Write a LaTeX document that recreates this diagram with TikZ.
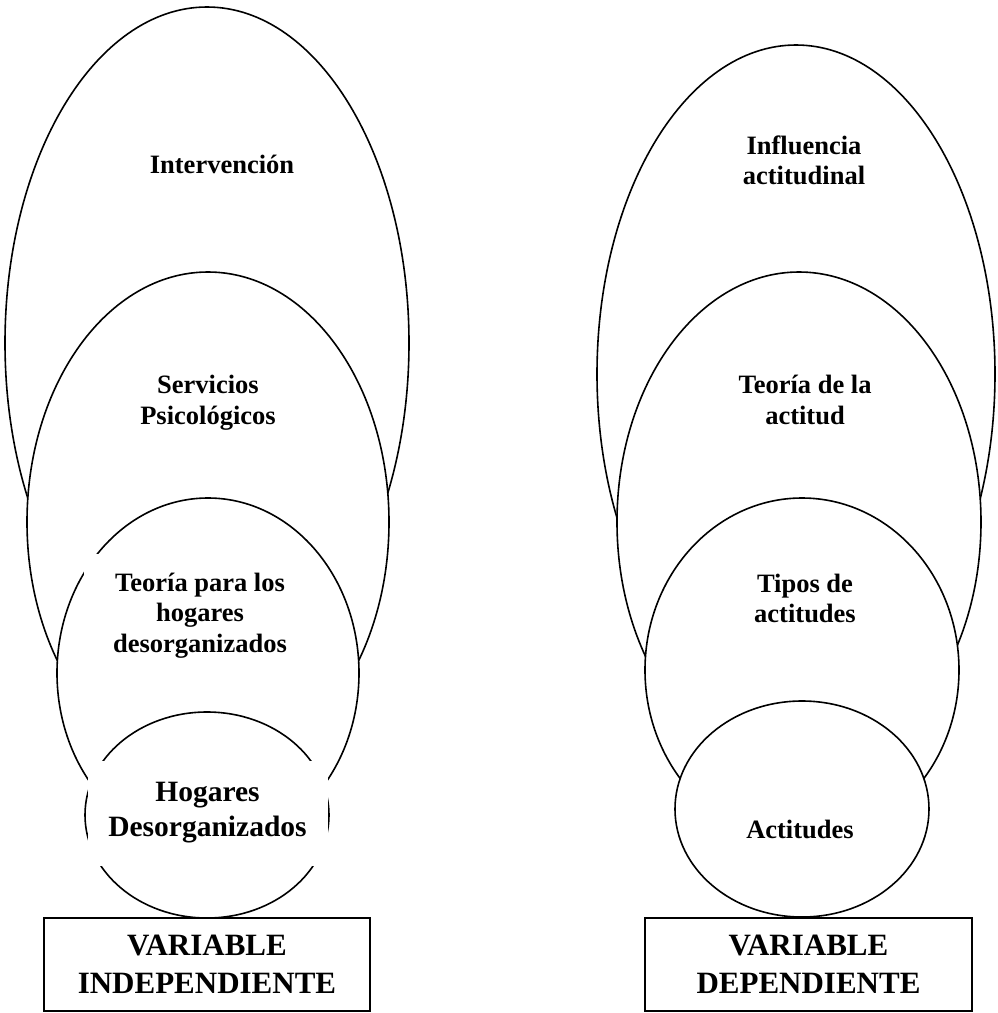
\documentclass[tikz,border=0pt]{standalone}
\usepackage{fontspec}
\setmainfont{Liberation Serif}
\usepackage{tikz}
\usetikzlibrary{positioning, shapes.geometric}

\newcommand{\letra}{\fontsize{26.5}{30.7}\selectfont\bfseries}
\newcommand{\letrag}{\fontsize{29.5}{35}\selectfont\bfseries}
\newcommand{\letravar}{\fontsize{31}{38}\selectfont\bfseries}

\begin{document}
\begin{tikzpicture}
    [
      x=1pt, y=-1pt,
      every node/.style = {inner sep=0pt, outer sep=0pt},
      ovalo/.style = {shape=ellipse, draw, fill=white, line width=1.6pt},
      texto/.style = {align=center, font=\letra},
      caja/.style = {shape=rectangle, draw, line width=2pt, align=center, font=\letravar, minimum height=93pt}
    ]
    \useasboundingbox (0,0) rectangle (997,1013);

    % variable independiente
    \node[ovalo, minimum width=404pt, minimum height=672pt] (int) at (207,343) {};
    \node[texto, anchor=base] (tint) at (222,173) {Intervención};
    \node[ovalo, minimum width=362pt, minimum height=500pt] (serv) at (208,522) {};
    \node[texto] (tserv) at (208,403) {Servicios\\Psicológicos};
    \node[ovalo, minimum width=302pt, minimum height=350pt] (teo) at (208,673) {};
    \node[texto, fill=white, inner xsep=29pt, inner ysep=19pt] (tteo) at (200,615.7) {Teoría para los\\hogares\\desorganizados};
    \node[ovalo, minimum width=244pt, minimum height=206pt] (hog) at (207,815) {};
    \node[texto, font=\letrag, fill=white, minimum width=240pt, minimum height=105pt] (thog) at (207.5,813) {Hogares\\Desorganizados};
    \node[caja, minimum width=326pt, below=0pt of hog] (vi) {VARIABLE\\INDEPENDIENTE};

    % variable dependiente
    \node[ovalo, minimum width=398pt, minimum height=658pt] (inf) at (796,374) {};
    \node[texto] (tinf) at (804,160.4) {Influencia\\actitudinal};
    \node[ovalo, minimum width=364pt, minimum height=500pt] (tact) at (799,522) {};
    \node[texto] (ttact) at (805,400) {Teoría de la\\actitud};
    \node[ovalo, minimum width=314pt, minimum height=344pt] (tip) at (802,670) {};
    \node[texto] (ttip) at (805,598.5) {Tipos de\\actitudes};
    \node[ovalo, minimum width=254pt, minimum height=216pt] (act) at (802,809) {};
    \node[texto, anchor=base] (tact2) at (800,838) {Actitudes};
    \node[caja, minimum width=327pt, below=1pt of act, xshift=6.5pt] (vd) {VARIABLE\\DEPENDIENTE};
\end{tikzpicture}
\end{document}
